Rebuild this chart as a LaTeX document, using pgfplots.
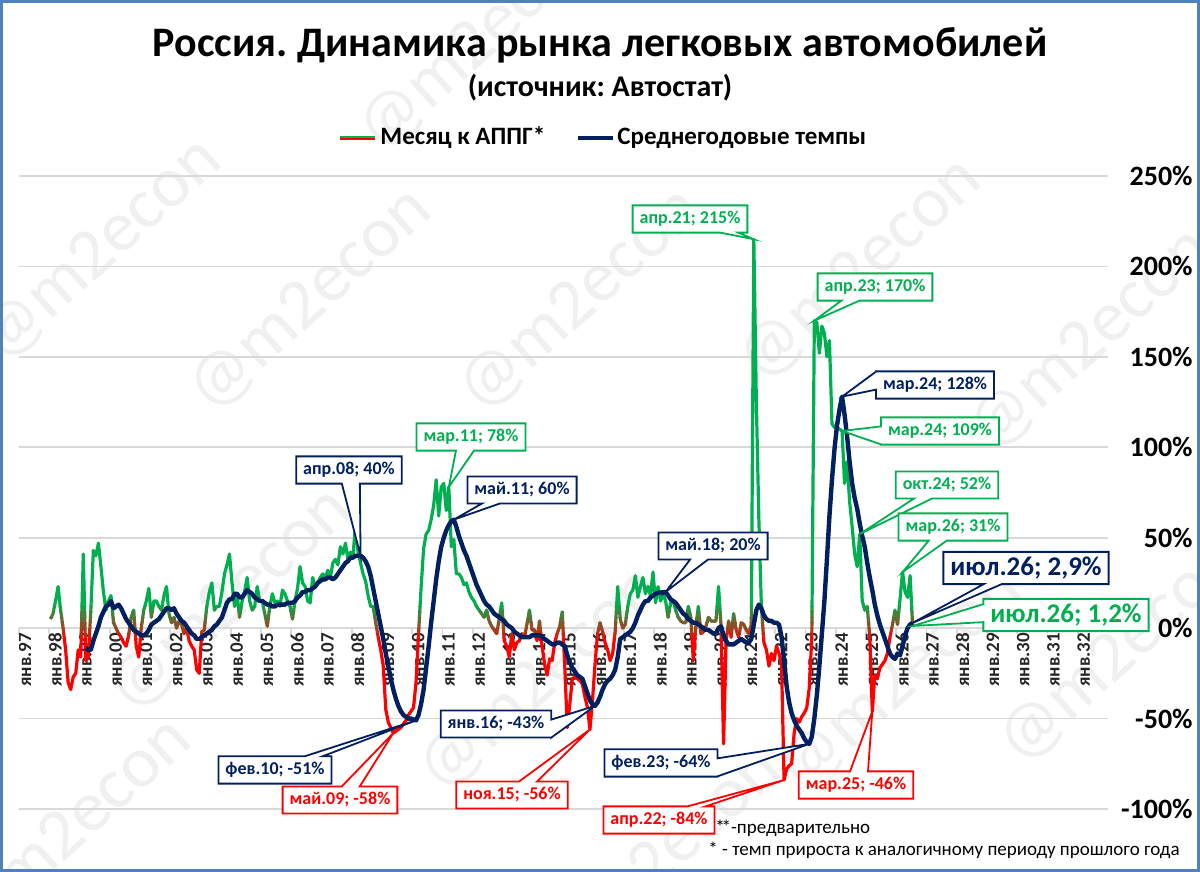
\documentclass[border=0pt]{standalone}
\usepackage{fontspec}
\setmainfont{Carlito}
\usepackage{pgfplots}
\pgfplotsset{compat=1.18}
\usepackage{pgfplotstable}
\usetikzlibrary{shapes.callouts}
\definecolor{G}{RGB}{0,176,80}
\definecolor{R}{RGB}{255,0,0}
\definecolor{N}{RGB}{0,32,96}
\definecolor{B}{RGB}{79,129,189}
\definecolor{grd}{RGB}{217,217,217}
\definecolor{wm}{RGB}{240,240,240}
\frenchspacing

% Month to same month of previous year, %, Jan 1998 ... Jul 2026
\pgfplotstableread[row sep=\\]{v\\
5\\8\\15\\23\\10\\0\\-12\\-30\\-34\\-27\\-25\\-12\\
-16\\41\\-18\\-16\\10\\43\\40\\47\\34\\20\\10\\15\\
18\\3\\0\\-3\\-5\\-8\\-10\\-4\\6\\10\\-10\\-16\\
0\\10\\15\\22\\6\\15\\15\\12\\10\\18\\23\\8\\
3\\6\\0\\4\\2\\-3\\0\\-7\\-10\\-12\\-23\\-25\\
-2\\-1\\12\\20\\25\\10\\12\\12\\20\\30\\35\\41\\
25\\12\\19\\6\\15\\20\\28\\15\\10\\12\\23\\15\\
15\\8\\1\\12\\19\\14\\15\\12\\21\\19\\15\\12\\
5\\15\\22\\34\\25\\23\\15\\14\\28\\23\\25\\28\\
30\\28\\32\\28\\36\\38\\35\\45\\41\\47\\38\\42\\
40\\57\\42\\36\\30\\26\\18\\12\\12\\3\\-5\\-12\\
-21\\-45\\-52\\-55\\-58\\-57\\-56\\-55\\-53\\-51\\-48\\-46\\
-44\\-30\\-3\\22\\44\\52\\54\\60\\68\\82\\62\\78\\
80\\65\\78\\45\\49\\30\\30\\28\\24\\25\\20\\17\\
15\\12\\10\\8\\6\\10\\4\\1\\-1\\-3\\5\\14\\
-7\\-10\\-16\\-3\\-12\\-8\\-7\\-3\\-5\\2\\10\\-1\\
-1\\-7\\4\\-10\\-20\\-26\\-17\\-18\\-8\\-3\\1\\9\\
-21\\-55\\-42\\-28\\-27\\-28\\-29\\-31\\-38\\-44\\-56\\-40\\
-20\\-3\\3\\-2\\-8\\-12\\-18\\-14\\-2\\23\\5\\0\\
2\\12\\19\\21\\29\\17\\23\\28\\19\\23\\18\\31\\
14\\23\\15\\19\\15\\6\\14\\15\\10\\6\\4\\3\\
3\\12\\6\\-18\\1\\12\\-3\\-2\\1\\6\\4\\4\\
4\\23\\1\\-64\\-7\\4\\-5\\8\\-1\\-5\\3\\2\\
-1\\-3\\2\\215\\125\\60\\12\\-8\\-12\\-21\\-14\\-18\\
-10\\-14\\-20\\-84\\-78\\-76\\-75\\-58\\-50\\-52\\-49\\-47\\
-44\\-33\\-5\\170\\169\\152\\167\\163\\150\\159\\113\\111\\
111\\110\\109\\80\\92\\70\\56\\41\\34\\52\\15\\10\\
12\\-5\\-46\\-26\\-28\\-22\\-20\\-18\\-14\\-5\\2\\10\\
2\\16\\31\\20\\17\\29\\1.2\\
}\greentab

% Average annual rate, %, Mar 1999 ... Jul 2026
\pgfplotstableread[row sep=\\]{v\\
-11\\-12\\-12\\-7\\-3\\1\\6\\9\\12\\13\\
15\\11\\12\\13\\11\\8\\5\\3\\1\\-1\\-2\\-3\\
-4\\-4\\-3\\-1\\2\\3\\4\\5\\7\\9\\11\\11\\
10\\11\\8\\6\\4\\3\\1\\-1\\-3\\-4\\-6\\-6\\
-5\\-4\\-3\\-2\\-1\\1\\2\\4\\6\\10\\14\\16\\
16\\19\\19\\17\\17\\19\\21\\20\\19\\17\\16\\15\\
15\\14\\13\\13\\12\\12\\13\\13\\13\\13\\14\\14\\
14\\15\\17\\18\\20\\20\\21\\21\\22\\23\\25\\26\\
27\\27\\28\\28\\27\\28\\30\\32\\34\\36\\37\\39\\
39\\40\\40\\40\\39\\37\\34\\29\\22\\15\\8\\1\\
-6\\-14\\-21\\-28\\-34\\-39\\-43\\-46\\-48\\-49\\-50\\-50\\
-50.5\\-51\\-48\\-42\\-34\\-22\\-10\\3\\15\\27\\37\\45\\
50\\54\\57\\59\\60\\56\\51\\47\\43\\40\\36\\32\\
28\\24\\21\\18\\15\\13\\12\\10\\8\\7\\6\\5\\
4\\2\\1\\0\\-2\\-3\\-4\\-5\\-5\\-5\\-5\\-4\\
-4\\-4\\-4\\-5\\-6\\-7\\-8\\-9\\-9\\-8\\-8\\-9\\
-10\\-15\\-19\\-22\\-24\\-26\\-27\\-28\\-32\\-36\\-40\\-42\\
-43\\-41\\-38\\-34\\-31\\-29\\-28\\-26\\-23\\-16\\-6\\-5\\
-4\\-3\\-2\\0\\3\\7\\10\\13\\15\\15\\17\\18\\
19\\19.5\\19.7\\19.8\\20\\18\\16\\15\\14\\12\\10\\8\\
7\\5\\4\\3\\3\\2\\1\\0\\-1\\-1\\-2\\-3\\
-3\\0\\1\\-4\\-7\\-9\\-9\\-9\\-8\\-7\\-6\\-7\\
-8\\-8\\-6\\2\\10\\13\\11\\7\\5\\4\\4\\3\\
3\\2\\-5\\-18\\-32\\-41\\-47\\-51\\-54\\-56\\-58\\-61\\
-63\\-64\\-60\\-50\\-37\\-21\\-3\\15\\38\\62\\82\\99\\
112\\121\\128\\118\\106\\92\\80\\72\\66\\58\\51\\45\\
36\\28\\21\\13\\7\\2\\-2\\-6\\-10\\-14\\-16\\-17\\
-14\\-15\\-10\\-4\\0\\2\\2.9\\
}\navytab

\newcommand{\gband}[3]{%
  \begin{scope}
    \clip (axis cs:1990,#1) rectangle (axis cs:2040,#2);
    \addplot[draw=#3, line width=1.6pt, line join=round, forget plot]
      table[x expr={1997+(\coordindex+12.5)/12}, y=v] {\greentab};
  \end{scope}}

\tikzset{co/.style={rectangle callout, draw=#1, text=#1, fill=white,
  line width=0.9pt, font=\bfseries\fontsize{9}{10}\selectfont,
  inner xsep=3.5pt, inner ysep=3pt, callout pointer width=9pt},
  cobig/.style={co=#1, font=\bfseries\fontsize{13.5}{14}\selectfont, inner ysep=2.5pt},
  xl/.style={rotate=90, anchor=east, font=\bfseries\fontsize{9.5}{10}\selectfont, text=black!85, xshift=1pt, yshift=-3pt}}

\begin{document}
\begin{tikzpicture}[x=1pt,y=1pt]
\path[use as bounding box] (0,0) rectangle (600,436);
\fill[white] (0,0) rectangle (600,436);
% watermarks
\foreach \a/\b in {50/311,155/286,290/286,430/301,545/266,240/416,115/136,270/96,450/96,35/21,330/6,560/110}{
  \node[rotate=42, text=wm, font=\fontsize{36}{36}\selectfont] at (\a,\b) {@m2econ};}

\begin{axis}[
  at={(9.5pt,31.5pt)}, anchor=south west,
  scale only axis, width=544.5pt, height=316.5pt,
  xmin=1997, xmax=2033, ymin=-100, ymax=250,
  axis x line=middle, axis y line*=right,
  axis line style={-},
  x axis line style={draw=grd, line width=0.9pt},
  y axis line style={draw=none},
  xtick={1997,1998,...,2032},
  xticklabels={},
  xtick style={draw=grd, line width=0.9pt},
  tick align=outside, major tick length=3pt,
  ytick={-100,-50,0,50,100,150,200,250},
  yticklabels={-100\%,-50\%,0\%,50\%,100\%,150\%,200\%,250\%},
  yticklabel style={anchor=east, inner sep=0pt, xshift=39.5pt, font=\bfseries\fontsize{14}{14}\selectfont},
  ytick style={draw=none},
  ymajorgrids, grid style={draw=grd, line width=0.9pt},
]
% date labels (drawn first, so the lines pass over them)
\pgfplotsinvokeforeach{97,98,99}{\node[xl] at (axis cs:19#1,0) {янв.#1};}
\pgfplotsinvokeforeach{00,01,02,03,04,05,06,07,08,09,10,11,12,13,14,15,16,17,18,19,20,21,22,23,24,25,26,27,28,29,30,31,32}{\node[xl] at (axis cs:20#1,0) {янв.#1};}

\gband{12}{300}{G}
\gband{9}{12}{G!88!R}
\gband{6}{9}{G!74!R}
\gband{3}{6}{G!60!R}
\gband{0}{3}{G!46!R}
\gband{-3}{0}{G!32!R}
\gband{-6}{-3}{G!16!R}
\gband{-200}{-6}{R}
\addplot[draw=N, line width=2.2pt, line join=round]
  table[x expr={1997+(\coordindex+26.5)/12}, y=v] {\navytab};

\coordinate (c1) at (axis cs:2021.2917,215);
\coordinate (c2) at (axis cs:2023.2917,170);
\coordinate (c3) at (axis cs:2024.2083,128);
\coordinate (c4) at (axis cs:2024.2083,109);
\coordinate (c5) at (axis cs:2024.7917,52);
\coordinate (c6) at (axis cs:2026.2083,31);
\coordinate (c7) at (axis cs:2026.5417,2.9);
\coordinate (c8) at (axis cs:2026.5417,1.2);
\coordinate (c9) at (axis cs:2011.2083,78);
\coordinate (c10) at (axis cs:2011.375,60);
\coordinate (c11) at (axis cs:2018.375,20);
\coordinate (c12) at (axis cs:2008.2917,40);
\coordinate (c13) at (axis cs:2010.125,-51);
\coordinate (c14) at (axis cs:2009.375,-58);
\coordinate (c15) at (axis cs:2016.0417,-43);
\coordinate (c16) at (axis cs:2015.875,-56);
\coordinate (c17) at (axis cs:2023.125,-64);
\coordinate (c18) at (axis cs:2022.2917,-84);
\coordinate (c19) at (axis cs:2025.2083,-46);
\end{axis}

% callouts
\node[co=G, callout absolute pointer={(c1)}] at (345,326.5) {апр.21; 215\%};
\node[co=G, callout absolute pointer={(c2)}] at (437.5,292.5) {апр.23; 170\%};
\node[co=N, callout absolute pointer={(c3)}] at (467.5,243.5) {мар.24; 128\%};
\node[co=G, callout absolute pointer={(c4)}] at (470,220.5) {мар.24; 109\%};
\node[co=G, callout absolute pointer={(c5)}] at (473.5,193.5) {окт.24; 52\%};
\node[co=G, callout absolute pointer={(c6)}] at (476.5,172.5) {мар.26; 31\%};
\node[cobig=N, callout absolute pointer={(c7)}] at (513,152) {июл.26; 2,9\%};
\node[cobig=G, callout absolute pointer={(c8)}] at (533,128.5) {июл.26; 1,2\%};
\node[co=G, callout absolute pointer={(c9)}] at (235.5,217.5) {мар.11; 78\%};
\node[co=N, callout absolute pointer={(c10)}] at (261,191) {май.11; 60\%};
\node[co=N, callout absolute pointer={(c11)}] at (356.5,163) {май.18; 20\%};
\node[co=N, callout absolute pointer={(c12)}] at (174.5,201) {апр.08; 40\%};
\node[co=N, callout absolute pointer={(c13)}] at (137.5,51) {фев.10; -51\%};
\node[co=R, callout absolute pointer={(c14)}] at (170,36) {май.09; -58\%};
\node[co=N, callout absolute pointer={(c15)}] at (248,74) {янв.16; -43\%};
\node[co=R, callout absolute pointer={(c16)}] at (256,38.5) {ноя.15; -56\%};
\node[co=N, callout absolute pointer={(c17)}] at (330.5,54.5) {фев.23; -64\%};
\node[co=R, callout absolute pointer={(c18)}] at (329.5,26) {апр.22; -84\%};
\node[co=R, callout absolute pointer={(c19)}] at (428,43.5) {мар.25; -46\%};

% titles
\node[font=\bfseries\fontsize{21}{25}\selectfont] at (300,413.5) {Россия. Динамика рынка легковых автомобилей};
\node[font=\bfseries\fontsize{15}{18}\selectfont] at (300,392) {(источник: Автостат)};
% legend
\draw[G, line width=1.1pt] (170,367.6) -- (187.5,367.6);
\draw[R, line width=1.1pt] (170,366.4) -- (187.5,366.4);
\node[anchor=west, font=\bfseries\fontsize{12.5}{14}\selectfont, inner sep=0pt] at (190,367) {Месяц к АППГ*};
\draw[N, line width=2.2pt] (289,367) -- (306.5,367);
\node[anchor=west, font=\bfseries\fontsize{12.5}{14}\selectfont, inner sep=0pt] at (308.5,367) {Среднегодовые темпы};
% notes
\node[anchor=west, font=\fontsize{9.5}{11}\selectfont, inner sep=0pt] at (357.5,22) {*\kern-1.6pt*-предварительно};
\node[anchor=west, font=\fontsize{9.5}{11}\selectfont, inner sep=0pt] at (354,11) {* - темп прироста к аналогичному периоду прошлого года};
% frame
\draw[B, line width=1.3pt] (0.65,0.65) rectangle (599.35,435.35);
\end{tikzpicture}
\end{document}
